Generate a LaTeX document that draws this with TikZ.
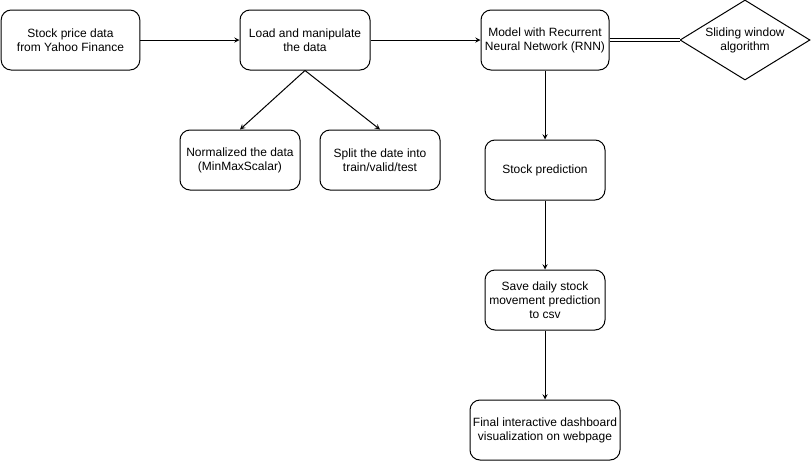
\documentclass[tikz,border=0pt]{standalone}
\usepackage{fontspec}
\setmainfont{Liberation Sans}
\usepackage{tikz}
\usetikzlibrary{shapes.geometric}

\begin{document}
\begin{tikzpicture}[x=0.75pt,y=-0.75pt,line width=0.75pt,>=stealth,font=\fontsize{9}{10.5}\selectfont]
		\tikzstyle{box}=[draw,rounded corners=7.5pt,align=center,minimum width=90pt,minimum height=45pt,inner sep=0pt]
		\tikzstyle{wbox}=[box,minimum width=112.5pt]
		\tikzstyle{choice}=[draw,shape=diamond,aspect=1.6,align=center,inner sep=0pt,minimum width=97.5pt,minimum height=60pt]
		\useasboundingbox (0,0) rectangle (811,461);

		\node[box,minimum width=104pt](data) at (70.5,40){Stock price data\\from Yahoo Finance};
		\node[box,minimum width=97.5pt](load) at (305,40){Load and manipulate\\the data};
		\node[box,minimum width=96pt](rnn) at (545,40){Model with Recurrent\\Neural Network (RNN)};
		\node[choice](slide) at (745,40){Sliding window\\algorithm};
%
		\node[box](norm) at (240,160){Normalized the data\\(MinMaxScalar)};
		\node[box](split) at (380,160){Split the date into\\train/valid/test};
%
		\node[box](pred) at (545,170){Stock prediction};
		\node[box](save) at (545,300){Save daily stock\\movement prediction\\to csv};
		\node[wbox](dash) at (545,430){Final interactive dashboard\\visualization on webpage};

		\draw[->] (data) -- (load);
		\draw[->] (load) -- (rnn);
		\draw[double,double distance=1.5pt,line width=0.6pt] (rnn) -- (slide);

		\draw[->] (load.south) -- (norm.north);
		\draw[->] (load.south) -- (split.north);

		\draw[->] (rnn) -- (pred);
		\draw[->] (pred) -- (save);
		\draw[->] (save) -- (dash);
	\end{tikzpicture}
\end{document}
